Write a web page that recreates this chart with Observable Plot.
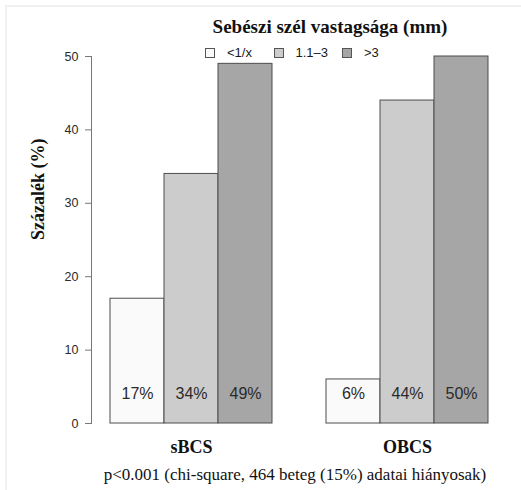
<!DOCTYPE html>
<html>
<head>
<meta charset="utf-8">
<script src="https://cdn.jsdelivr.net/npm/d3@7"></script>
<script src="https://cdn.jsdelivr.net/npm/@observablehq/plot@0.6"></script>
<style>
  body { margin: 0; background: #fff; }
  #chart { position: relative; width: 521px; height: 490px; overflow: hidden; }
  #chart svg { position: absolute; left: 0; top: 0; }
  .edge { position: absolute; left: 5px; top: 5px; right: -10px; bottom: -10px;
          border-left: 2px solid #f1f1f1; border-top: 2px solid #f1f1f1; pointer-events: none; }
  .title { position: absolute; left: 330px; top: 17px; transform: translateX(-50%);
           font: bold 19px "Liberation Serif", "Times New Roman", serif; line-height: 1;
           white-space: nowrap; color: #111; }
  .legend { position: absolute; left: 205px; top: 48px; height: 10px; display: flex;
            font: 13px "Liberation Sans", Arial, sans-serif; line-height: 10px; color: #1a1a1a; }
  .legend .item { width: 68.5px; display: flex; align-items: center; }
  .legend .sw { width: 8px; height: 8px; border: 1px solid #555; margin-right: 12px; }
  .caption { position: absolute; left: 295px; top: 466px; transform: translateX(-50%);
             font: 17px "Liberation Serif", "Times New Roman", serif; line-height: 1;
             white-space: nowrap; color: #111; }
</style>
</head>
<body>
<div id="chart"></div>
<script>
// Surgical margin width categories and the share of patients in each, per group
const groups = ["sBCS", "OBCS"];
const margins = ["<1/x", "1.1–3", ">3"];
const sBCS = [17, 34, 49];
const OBCS = [6, 44, 50];
const yTicks = [0, 10, 20, 30, 40, 50];
const fills = ["#fafafa", "#cccccc", "#a6a6a6"];

const titleText = "Sebészi szél vastagsága (mm)";
const yLabel = "Százalék (%)";
const captionText = "p<0.001 (chi-square, 464 beteg (15%) adatai hiányosak)";

const sans = "'Liberation Sans', Arial, sans-serif";
const serif = "'Liberation Serif', 'Times New Roman', serif";

// Bars sit side by side within a group; one empty slot separates the groups
const perGroup = margins.length + 1;
const seriesByGroup = [sBCS, OBCS];
const rows = groups.flatMap((g, gi) =>
  seriesByGroup[gi].map((v, i) => ({group: g, margin: margins[i], value: v, slot: gi * perGroup + i}))
);
const slots = d3.range(groups.length * perGroup - 1);
const groupSlots = groups.map((g, gi) => gi * perGroup + (margins.length - 1) / 2);

const plot = Plot.plot({
  width: 521,
  height: 490,
  marginLeft: 91,
  marginRight: 15,
  marginTop: 56,
  marginBottom: 67,
  style: {background: "transparent", overflow: "visible"},
  x: {type: "band", domain: slots, paddingInner: 0, paddingOuter: 0.312, axis: null},
  y: {domain: [0, 50], axis: null},
  color: {type: "ordinal", domain: margins, range: fills},
  marks: [
    Plot.barY(rows, {x: "slot", y: "value", fill: "margin", stroke: "#4d4d4d", strokeWidth: 1}),
    Plot.text(rows, {
      x: "slot", frameAnchor: "bottom", dy: -25,
      text: d => `${d.value}%`, fontSize: 16, fontFamily: sans, fill: "#2a2a2a"
    }),
    // y axis line spanning the tick range (the y domain is exactly 0–50)
    Plot.frame({anchor: "left", stroke: "#777"}),
    Plot.axisY({
      ticks: yTicks, tickSize: 6, tickPadding: 7,
      stroke: "#777", fill: "#2a2a2a", fontSize: 12.5, fontFamily: sans, label: null
    }),
    Plot.axisX({
      ticks: groupSlots, tickFormat: s => groups[groupSlots.indexOf(s)],
      tickSize: 0, tickPadding: 17, fontSize: 18, fontWeight: "bold",
      fontFamily: serif, fill: "#111", label: null
    }),
    Plot.text([yLabel], {
      frameAnchor: "left", dx: -53, rotate: -90,
      fontSize: 18, fontWeight: "bold", fontFamily: serif, fill: "#111"
    })
  ]
});

const root = document.getElementById("chart");
root.appendChild(plot);

const edge = document.createElement("div");
edge.className = "edge";
root.appendChild(edge);

const title = document.createElement("div");
title.className = "title";
title.textContent = titleText;
root.appendChild(title);

const legend = document.createElement("div");
legend.className = "legend";
margins.forEach((m, i) => {
  const item = document.createElement("div");
  item.className = "item";
  const sw = document.createElement("span");
  sw.className = "sw";
  sw.style.background = fills[i];
  const lab = document.createElement("span");
  lab.textContent = m;
  item.append(sw, lab);
  legend.appendChild(item);
});
root.appendChild(legend);

const caption = document.createElement("div");
caption.className = "caption";
caption.textContent = captionText;
root.appendChild(caption);
</script>
</body>
</html>
